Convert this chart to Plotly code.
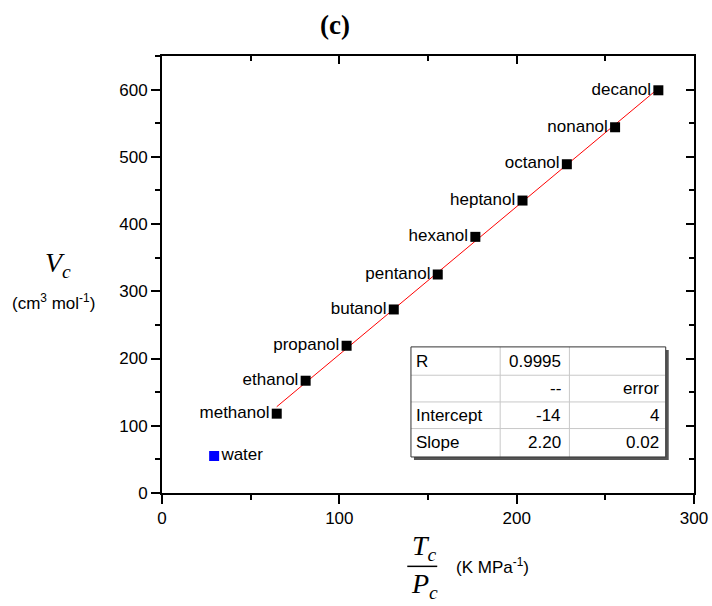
import plotly.graph_objects as go

# ---- data ----
alcohols = ["methanol", "ethanol", "propanol", "butanol", "pentanol", "hexanol",
            "heptanol", "octanol", "nonanol", "decanol"]
tc_over_pc = [64.7, 81.0, 104.1, 130.7, 155.5, 176.7, 203.3, 228.3, 255.5, 279.9]
vc = [118, 167, 219, 273, 325, 381, 435, 489, 544, 599]

water_name = ["water"]
water_x = [29.4]
water_y = [55]

fit_slope = 2.20
fit_intercept = -14

table_rows = [["R", "0.9995", ""],
              ["", "--", "error"],
              ["Intercept", "-14", "4"],
              ["Slope", "2.20", "0.02"]]

x_ticks = [0, 100, 200, 300]
y_ticks = [0, 100, 200, 300, 400, 500, 600]

# ---- geometry helpers (pixel -> paper) ----
L, R, T, B = 161.5, 694.0, 56.0, 492.7
W, H = 712, 606


def xp(px):
    return (px - L) / (R - L)


def yp(py):
    return (B - py) / (B - T)


SANS = "Liberation Sans, Arial, sans-serif"
SERIF = "Liberation Serif, DejaVu Serif, serif"

fig = go.Figure()

# fit line
x_fit = [min(tc_over_pc), max(tc_over_pc)]
y_fit = [fit_intercept + fit_slope * v for v in x_fit]
fig.add_trace(go.Scatter(x=x_fit, y=y_fit, mode="lines",
                         line=dict(color="red", width=1), showlegend=False,
                         hoverinfo="skip"))

fig.add_trace(go.Scatter(x=tc_over_pc, y=vc, mode="markers+text", text=alcohols,
                         textposition="middle left",
                         textfont=dict(family=SANS, size=17, color="black"),
                         marker=dict(symbol="square", size=10, color="black"),
                         showlegend=False))

fig.add_trace(go.Scatter(x=water_x, y=water_y, mode="markers+text", text=water_name,
                         textposition="middle right",
                         textfont=dict(family=SANS, size=17, color="black"),
                         marker=dict(symbol="square", size=10, color="#0000ff"),
                         showlegend=False))

# dummy trace for mirrored (inside-tick) top/right axes
fig.add_trace(go.Scatter(x=[None], y=[None], xaxis="x2", yaxis="y2",
                         showlegend=False, hoverinfo="skip"))

axis_common = dict(showgrid=False, zeroline=False, showline=True, linecolor="black",
                   linewidth=2, tickcolor="black", tickwidth=2)

fig.update_layout(
    width=W, height=H,
    margin=dict(l=L, r=W - R, t=T, b=H - B, autoexpand=False),
    paper_bgcolor="white", plot_bgcolor="white",
    xaxis=dict(range=[0, 300], tickvals=x_ticks, ticks="outside", ticklen=9,
               tickfont=dict(family=SANS, size=17, color="black"),
               minor=dict(dtick=50, tick0=0, ticks="outside", ticklen=5,
                          tickcolor="black", tickwidth=2),
               **axis_common),
    yaxis=dict(range=[0, 650], tickvals=y_ticks, ticks="outside", ticklen=9,
               tickfont=dict(family=SANS, size=17, color="black"),
               minor=dict(dtick=50, tick0=0, ticks="outside", ticklen=5,
                          tickcolor="black", tickwidth=2),
               **axis_common),
    xaxis2=dict(range=[0, 300], overlaying="x", side="top", anchor="y2",
                tickvals=x_ticks, ticks="inside", ticklen=8, showticklabels=False,
                minor=dict(dtick=50, tick0=0, ticks="inside", ticklen=5,
                           tickcolor="black", tickwidth=2),
                **axis_common),
    yaxis2=dict(range=[0, 650], overlaying="y", side="right", anchor="x2",
                tickvals=y_ticks, ticks="inside", ticklen=8, showticklabels=False,
                minor=dict(dtick=50, tick0=0, ticks="inside", ticklen=5,
                           tickcolor="black", tickwidth=2),
                **axis_common),
)

shapes = []
annotations = []

# ---- fit table ----
tl, tr, tt, tb = 410.7, 665.7, 346.7, 456.7
col_div = [500.0, 569.3]
row_div = [375.0, 401.7, 428.3]
row_edges = [tt] + row_div + [tb]

# shadow
shapes.append(dict(type="rect", xref="paper", yref="paper",
                   x0=xp(tl + 3), x1=xp(tr + 3), y0=yp(tb + 3), y1=yp(tt + 3),
                   fillcolor="#555555", line=dict(width=0), layer="above"))
shapes.append(dict(type="rect", xref="paper", yref="paper",
                   x0=xp(tl), x1=xp(tr), y0=yp(tb), y1=yp(tt),
                   fillcolor="white", line=dict(width=0), layer="above"))
for c in col_div:
    shapes.append(dict(type="line", xref="paper", yref="paper",
                       x0=xp(c), x1=xp(c), y0=yp(tb), y1=yp(tt),
                       line=dict(color="#c8c8c8", width=1), layer="above"))
for r in row_div:
    shapes.append(dict(type="line", xref="paper", yref="paper",
                       x0=xp(tl), x1=xp(tr), y0=yp(r), y1=yp(r),
                       line=dict(color="#c8c8c8", width=1), layer="above"))
shapes.append(dict(type="rect", xref="paper", yref="paper",
                   x0=xp(tl), x1=xp(tr), y0=yp(tb), y1=yp(tt),
                   fillcolor="rgba(0,0,0,0)", line=dict(color="#333333", width=1),
                   layer="above"))

col_text_x = [(tl + 3, "left"), (col_div[1] - 6, "right"), (tr - 5, "right")]
for i, row in enumerate(table_rows):
    yc = (row_edges[i] + row_edges[i + 1]) / 2
    for j, txt in enumerate(row):
        if not txt:
            continue
        x, anc = col_text_x[j]
        annotations.append(dict(xref="paper", yref="paper", x=xp(x), y=yp(yc),
                                xanchor=anc, yanchor="middle", showarrow=False,
                                text=txt, font=dict(family=SANS, size=17, color="black")))

# ---- title ----
annotations.append(dict(xref="paper", yref="paper", x=xp(334.5), y=yp(25),
                        xanchor="center", yanchor="middle", showarrow=False,
                        text="<b>(c)</b>", font=dict(family=SERIF, size=27, color="black")))

# ---- y-axis title ----
annotations.append(dict(xref="paper", yref="paper", x=xp(57), y=yp(264),
                        xanchor="center", yanchor="middle", showarrow=False,
                        text="<i>V</i><sub><i>c</i></sub>",
                        font=dict(family=SERIF, size=28, color="black")))
annotations.append(dict(xref="paper", yref="paper", x=xp(53), y=yp(302),
                        xanchor="center", yanchor="middle", showarrow=False,
                        text="(cm<sup>3</sup> mol<sup>-1</sup>)",
                        font=dict(family=SANS, size=17, color="black")))

# ---- x-axis title (fraction) ----
annotations.append(dict(xref="paper", yref="paper", x=xp(424), y=yp(547),
                        xanchor="center", yanchor="middle", showarrow=False,
                        text="<i>T</i><sub><i>c</i></sub>",
                        font=dict(family=SERIF, size=28, color="black")))
annotations.append(dict(xref="paper", yref="paper", x=xp(424), y=yp(585),
                        xanchor="center", yanchor="middle", showarrow=False,
                        text="<i>P</i><sub><i>c</i></sub>",
                        font=dict(family=SERIF, size=28, color="black")))
shapes.append(dict(type="line", xref="paper", yref="paper",
                   x0=xp(407), x1=xp(437), y0=yp(566), y1=yp(566),
                   line=dict(color="black", width=1.5)))
annotations.append(dict(xref="paper", yref="paper", x=xp(492), y=yp(566),
                        xanchor="center", yanchor="middle", showarrow=False,
                        text="(K MPa<sup>-1</sup>)",
                        font=dict(family=SANS, size=17, color="black")))

fig.update_layout(shapes=shapes, annotations=annotations)

fig.write_html("out.html",
               config={"displayModeBar": False},
               post_script="document.body.style.margin='0';"
                           "document.body.style.overflow='hidden';")
